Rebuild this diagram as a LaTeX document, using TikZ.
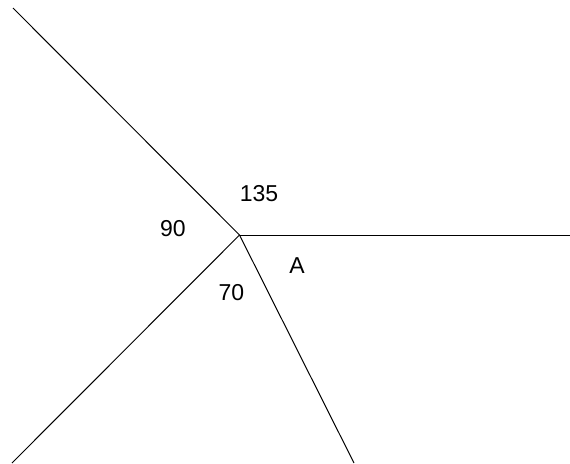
\documentclass[tikz,border=0pt]{standalone}
\usepackage{fontspec}
\setmainfont{Liberation Sans}
\usetikzlibrary{positioning}

\begin{document}
\begin{tikzpicture}[
    x=1pt, y=-1pt,
    ray/.style={draw, line width=1pt},
    anglabel/.style={inner sep=0pt, font=\fontsize{23}{26}\selectfont},
]
\useasboundingbox (0,0) rectangle (570,463);

% =============================================
% Vertex and ray ends
% =============================================
\coordinate (vtx) at (239.5, 235);
\coordinate (end_nw) at (13, 8);
\coordinate (end_e) at (570, 235);
\coordinate (end_sw) at (12, 463);
\coordinate (end_s) at (354, 463);

\draw[ray] (vtx) -- (end_nw);
\draw[ray] (vtx) -- (end_e);
\draw[ray] (vtx) -- (end_sw);
\draw[ray] (vtx) -- (end_s);

% =============================================
% Angle labels
% =============================================
\node[anglabel] at (259, 194) (ang_top) {135};
\node[anglabel] at (173, 229) (ang_left) {90};
\node[anglabel] at (297, 265.5) (ang_a) {A};
\node[anglabel] at (231.5, 292.5) (ang_bottom) {70};

\end{tikzpicture}
\end{document}
